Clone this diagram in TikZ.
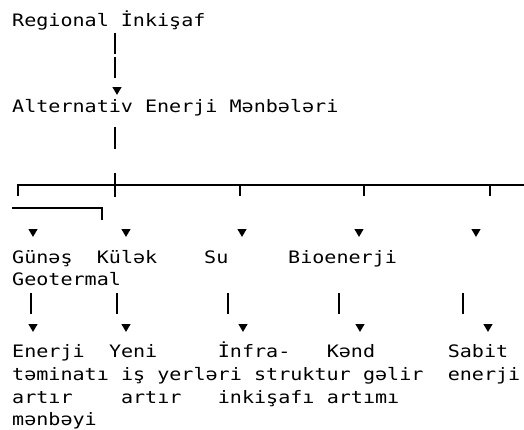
\documentclass[tikz,border=0pt]{standalone}
\usepackage{fontspec}
\newfontfamily\asciifont[FakeStretch=1.17]{DejaVu Sans Mono}

\begin{document}
\begin{tikzpicture}[x=1pt,y=-1pt]
        % Define styles
        \tikzset{
            ascii/.style={anchor=base west, inner sep=0pt, align=left,
                font=\asciifont\fontsize{17.15}{22.7}\selectfont},
            wire/.style={line width=1.4pt},
            downtip/.pic={\fill (-4.6,-3.9) -- (4.6,-3.9) -- (0,3.9) -- cycle;}
        }
        \useasboundingbox (0,0) rectangle (524,430);

        % Nodes (base = baseline of the last line)
        \node[ascii] (regional) at (12,26.7) {Regional İnkişaf};
        \node[ascii] (alternativ) at (12,113) {Alternativ Enerji Mənbələri};

        \node[ascii] (gunes) at (12,285.7) {Günəş\\Geotermal};
        \node[ascii] (kulek) at (96.7,263) {Külək};
        \node[ascii] (su) at (204,263) {Su};
        \node[ascii] (bioenerji) at (288,263) {Bioenerji};

        \node[ascii] (effect_1) at (12,425.8) {Enerji\\təminatı\\artır\\mənbəyi};
        \node[ascii] (effect_2) at (108.8,403.1) {Yeni\\\ iş yerləri\\\ artır};
        \node[ascii] (effect_3) at (217.7,403.1) {İnfra-\\\ \ \ struktur\\inkişafı};
        \node[ascii] (effect_4) at (326.6,403.1) {Kənd\\\ \ \ gəlir\\artımı};
        \node[ascii] (effect_5) at (447.6,380.4) {Sabit\\enerji};

        % Lines
        \draw[wire] (115,33) -- (115,54);
        \draw[wire] (115,57) -- (115,78);
        \pic at (117,91) {downtip};
        \draw[wire] (115,127) -- (115,149);

        \draw[wire] (18,196) |- (524,185);
        \draw[wire] (115,173) -- (115,197);
        \draw[wire] (240,185) -- (240,196);
        \draw[wire] (364,185) -- (364,196);
        \draw[wire] (490,185) -- (490,196);
        \draw[wire] (12,208) -| (102,220);

        \pic at (33,233) {downtip};
        \pic at (126,233) {downtip};
        \pic at (242,233) {downtip};
        \pic at (359,233) {downtip};
        \pic at (476,233) {downtip};

        \draw[wire] (31,293) -- (31,314);
        \draw[wire] (117,293) -- (117,314);
        \draw[wire] (228,293) -- (228,314);
        \draw[wire] (339,293) -- (339,314);
        \draw[wire] (463,293) -- (463,314);

        \pic at (33,328) {downtip};
        \pic at (126,328) {downtip};
        \pic at (243,328) {downtip};
        \pic at (360,328) {downtip};
        \pic at (488,328) {downtip};
    \end{tikzpicture}
\end{document}
